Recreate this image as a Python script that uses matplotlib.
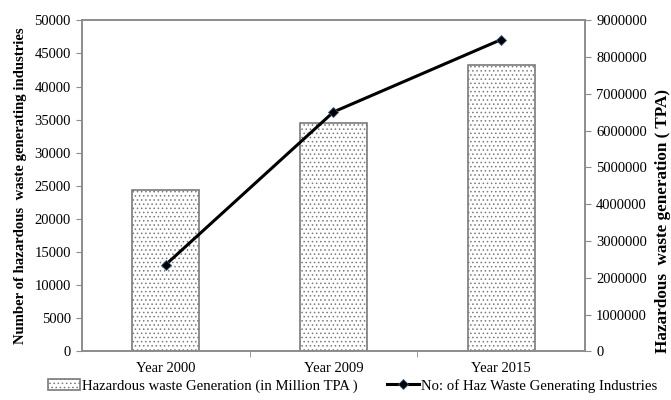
import numpy as np
import matplotlib
matplotlib.use("Agg")
import matplotlib.pyplot as plt
from matplotlib.ticker import FormatStrFormatter

plt.rcParams['font.family'] = ['Liberation Serif', 'DejaVu Serif']
plt.rcParams['hatch.linewidth'] = 0.6

years = ["Year 2000", "Year 2009", "Year 2015"]
waste_tpa = [4400000, 6200000, 7800000]
num_industries = [13100, 36165, 47100]

axis_grey = "#8c8c8c"

fig, ax = plt.subplots(figsize=(6.71, 4.0), dpi=100)
fig.subplots_adjust(left=0.1222, right=0.8718, top=0.949, bottom=0.1218)
ax2 = ax.twinx()

x = np.arange(len(years))

# bars go on the right axis, the line on the left one, line drawn on top
bars = ax2.bar(x, waste_tpa, width=0.4, facecolor="white", edgecolor="#7a7a7a",
               hatch="....", linewidth=1.2,
               label="Hazardous waste Generation (in Million TPA )")
line, = ax.plot(x, num_industries, color="black", linewidth=2.2, marker="D",
                markersize=5, markerfacecolor="black", markeredgecolor="#3a5a8a",
                markeredgewidth=0.6,
                label="No: of Haz Waste Generating Industries")
ax.set_zorder(ax2.get_zorder() + 1)
ax.patch.set_visible(False)

ax.set_xlim(-0.5, 2.5)
ax.set_ylim(0, 50000)
ax.set_yticks(np.arange(0, 50001, 5000))
ax2.set_ylim(0, 9000000)
ax2.set_yticks(np.arange(0, 9000001, 1000000))
ax2.yaxis.set_major_formatter(FormatStrFormatter("%d"))

ax.set_xticks(x)
ax.set_xticklabels(years)
ax.set_xticks([0.5, 1.5], minor=True)
ax.tick_params(axis="x", which="major", length=0, pad=8, labelsize=10.5)
ax.tick_params(axis="x", which="minor", length=4, color=axis_grey)
ax2.tick_params(axis="x", length=0)

ax.tick_params(axis="y", length=4, color=axis_grey, labelsize=10.5, pad=4)
ax2.tick_params(axis="y", length=4, color=axis_grey, labelsize=10.5, pad=4)

for a in (ax, ax2):
    for s in a.spines.values():
        s.set_color(axis_grey)
        s.set_linewidth(1.2)

ax.set_ylabel("Number of hazardous  waste generating industries",
              fontsize=10.6, fontweight="bold", labelpad=5)
ax2.set_ylabel("Hazardous  waste generation ( TPA)",
               fontsize=12.3, fontweight="bold", va="center")
ax2.yaxis.set_label_coords(1.155, 0.395)

fig.legend(handles=[bars, line], loc="lower center", ncol=2, frameon=False,
           bbox_to_anchor=(0.525, -0.015), fontsize=10.6, handlelength=2.2,
           handleheight=0.7, handletextpad=0.1, columnspacing=2.0)

fig.savefig("out.png", dpi=100)
